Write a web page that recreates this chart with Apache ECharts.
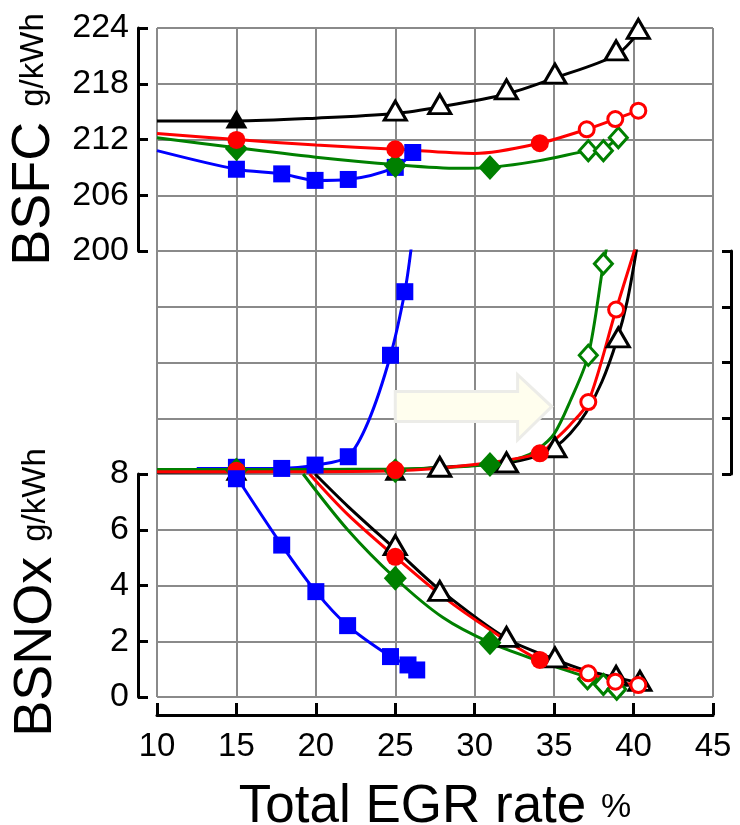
<!DOCTYPE html>
<html>
<head>
<meta charset="utf-8">
<script src="https://cdn.jsdelivr.net/npm/echarts@6/dist/echarts.min.js"></script>
<style>
  html, body { margin: 0; padding: 0; background: #fff; }
  #main { width: 740px; height: 825px; }
</style>
</head>
<body>
<div id="main"></div>
<script>
// x axis: total EGR rate %
var xMin = 10, xMax = 45, xStep = 5;

// BSFC g/kWh (top panel)
var bsfcBlackLine = [[10,214.0],[15,214.0],[20,214.3],[25,214.8],[27.8,215.5],[32,216.9],[35,218.6],[38.9,221.1],[40.3,223.5]];
var bsfcBlackFilled = [[15,214.2]];
var bsfcBlackOpen = [[25,215.1],[27.8,215.8],[32,217.4],[35.05,219.1],[38.9,221.6],[40.3,223.9]];
var bsfcRedLine = [[10,212.65],[15,212.0],[20,211.4],[25,210.95],[30,210.5],[34.1,211.6],[37.05,213.1],[38.85,214.2],[40.3,215.1]];
var bsfcRedFilled = [[15,211.95],[25,210.95],[34.1,211.6]];
var bsfcRedOpen = [[37.05,213.1],[38.85,214.2],[40.3,215.1]];
var bsfcGreenLine = [[10,212.2],[15,211.1],[20,210.1],[25,209.3],[29,208.9],[31,209.0],[34,209.7],[37.15,210.8],[38.1,211.0],[39.04,212.2]];
var bsfcGreenFilled = [[15,211.0],[25,209.2],[30.96,209.0]];
var bsfcGreenOpen = [[37.15,210.8],[38.1,210.8],[39.04,212.2]];
var bsfcBlueLine = [[10,210.8],[15,208.8],[17.85,208.3],[20,207.6],[22,207.7],[25,209.0],[26.1,210.6]];
var bsfcBluePts = [[15,208.8],[17.85,208.3],[19.95,207.6],[22.04,207.7],[25,209.0],[26.1,210.6]];

// middle panel (no scale printed, read on a 0-4 grid)
var midBlackLine = [[10,0.03],[20,0.05],[25,0.07],[27.8,0.12],[32,0.2],[34,0.33],[35.05,0.48],[36,0.72],[37,1.1],[38,1.65],[38.95,2.4],[39.6,3.1],[40.2,4.05]];
var midBlackFilled = [[15,0.05],[25,0.05]];
var midBlackOpen = [[27.8,0.13],[32,0.21],[35.05,0.48],[39.04,2.45]];
var midRedLine = [[10,0.04],[15,0.04],[25,0.06],[30,0.17],[34.1,0.37],[35,0.6],[36,0.88],[37.15,1.29],[38.9,2.95],[40.1,4.05]];
var midRedFilled = [[15,0.06],[25,0.07],[34.1,0.37]];
var midRedOpen = [[37.15,1.29],[38.9,2.95]];
var midGreenLine = [[10,0.08],[15,0.08],[25,0.09],[30.96,0.17],[33,0.3],[34,0.45],[35,0.72],[36,1.3],[37.15,2.13],[38.1,3.77],[38.3,4.05]];
var midGreenFilled = [[15,0.07],[25,0.06],[30.96,0.17]];
var midGreenOpen = [[37.15,2.13],[38.1,3.77]];
var midBlueLine = [[12.5,0.1],[15,0.1],[17.85,0.1],[20,0.16],[22,0.31],[23.3,0.94],[24.7,2.13],[25.6,3.27],[26,4.05]];
var midBluePts = [[15,0.12],[17.85,0.1],[19.95,0.16],[22.04,0.31],[24.7,2.13],[25.6,3.27]];

// BSNOx g/kWh (bottom panel)
var noxBlackLine = [[19.95,8.0],[22,6.85],[25,5.3],[27.8,3.85],[32,2.1],[35.05,1.35],[37,0.95],[38.9,0.7],[40.4,0.5]];
var noxBlackOpen = [[25,5.45],[27.8,3.81],[32,2.16],[35.05,1.42],[38.9,0.76],[40.4,0.58]];
var noxRedLine = [[19.6,8.0],[22,6.55],[25,5.03],[28,3.6],[31,2.4],[34.1,1.33],[37.15,0.85],[38.85,0.55],[40.3,0.43]];
var noxRedFilled = [[25,5.03],[34.1,1.33]];
var noxRedOpen = [[37.15,0.85],[38.85,0.55],[40.3,0.43]];
var noxGreenLine = [[19.2,8.0],[22,6.0],[25,4.26],[28,2.85],[30.96,1.95],[34,1.3],[37.1,0.7],[38.1,0.5],[38.94,0.3]];
var noxGreenFilled = [[25,4.26],[30.96,1.95]];
var noxGreenOpen = [[37.1,0.65],[38.1,0.45],[38.94,0.28]];
var noxBlueLine = [[15,7.9],[17.85,5.45],[20,3.78],[22,2.56],[24.7,1.45],[25.8,1.15],[26.35,0.97]];
var noxBluePts = [[15,7.83],[17.85,5.45],[20,3.78],[22,2.56],[24.7,1.45],[25.8,1.15],[26.35,0.97]];

// faint arrow in the middle panel (data coords)
var arrowPts = [[25,1.48],[32.7,1.48],[32.7,1.78],[34.85,1.21],[32.7,0.61],[32.7,0.94],[25,0.94]];

var FONT = '"Liberation Sans", Arial, sans-serif';
var GRIDLINE = { show: true, lineStyle: { color: '#8a8a8a', width: 2 } };
var BLACK = '#000', RED = '#ff0000', GREEN = '#008000', BLUE = '#0000ff';

function curve(data, color, idx) {
    return {
        type: 'line', xAxisIndex: idx, yAxisIndex: idx, data: data,
        smooth: 0.3, showSymbol: false, silent: true,
        lineStyle: { color: color, width: 3 }, z: 2
    };
}

function marks(data, color, symbol, size, open, idx) {
    return {
        type: 'scatter', xAxisIndex: idx, yAxisIndex: idx, data: data,
        symbol: symbol, symbolSize: size, silent: true, z: 3,
        itemStyle: open ? { color: '#fff', borderColor: color, borderWidth: 3, opacity: 1 }
                        : { color: color, opacity: 1 }
    };
}

var TRI = [22, 19], DIA = [23, 25], DIA_O = [18, 20], SQ = 17, CIR = 18, CIR_O = 15;

function panel(idx, blueL, blueP, blackL, blackF, blackO, greenL, greenF, greenO, redL, redF, redO) {
    var s = [];
    s.push(curve(blueL, BLUE, idx));
    s.push(marks(blueP, BLUE, 'rect', SQ, false, idx));
    s.push(curve(blackL, BLACK, idx));
    if (blackF) s.push(marks(blackF, BLACK, 'triangle', TRI, false, idx));
    s.push(marks(blackO, BLACK, 'triangle', TRI, true, idx));
    s.push(curve(greenL, GREEN, idx));
    s.push(marks(greenF, GREEN, 'diamond', DIA, false, idx));
    s.push(marks(greenO, GREEN, 'diamond', DIA_O, true, idx));
    s.push(curve(redL, RED, idx));
    s.push(marks(redF, RED, 'circle', CIR, false, idx));
    s.push(marks(redO, RED, 'circle', CIR_O, true, idx));
    return s;
}

function xAxisFor(idx, showAxis) {
    return {
        type: 'value', gridIndex: idx, min: xMin, max: xMax, interval: xStep,
        splitLine: GRIDLINE,
        offset: showAxis ? 18 : 0,
        axisLine: { show: showAxis, onZero: false, lineStyle: { color: BLACK, width: 3 } },
        axisTick: { show: showAxis, inside: true, length: 12, lineStyle: { color: BLACK, width: 3 } },
        axisLabel: { show: showAxis, fontSize: 33, color: BLACK, fontFamily: FONT, margin: 15 },
        name: showAxis ? '{a|Total EGR rate }{b|%}' : '',
        nameLocation: 'middle', nameGap: 66,
        nameTextStyle: {
            fontFamily: FONT, color: BLACK,
            rich: {
                a: { fontSize: 53, fontFamily: FONT },
                b: { fontSize: 34, fontFamily: FONT }
            }
        }
    };
}

function drawChart() {
    var dom = document.getElementById("main");
    var myChart = echarts.init(dom, null, { renderer: 'canvas' });
    var option = null;

    var series = []
        .concat(panel(0, bsfcBlueLine, bsfcBluePts, bsfcBlackLine, bsfcBlackFilled, bsfcBlackOpen,
            bsfcGreenLine, bsfcGreenFilled, bsfcGreenOpen, bsfcRedLine, bsfcRedFilled, bsfcRedOpen))
        .concat(panel(1, midBlueLine, midBluePts, midBlackLine, midBlackFilled, midBlackOpen,
            midGreenLine, midGreenFilled, midGreenOpen, midRedLine, midRedFilled, midRedOpen))
        .concat(panel(2, noxBlueLine, noxBluePts, noxBlackLine, null, noxBlackOpen,
            noxGreenLine, noxGreenFilled, noxGreenOpen, noxRedLine, noxRedFilled, noxRedOpen));

    function yName(shift) {
        return {
            fontFamily: FONT, color: BLACK,
            rich: {
                a: { fontSize: 54, fontFamily: FONT },
                b: { fontSize: 33, fontFamily: FONT, padding: [0, shift, 0, 0] }
            }
        };
    }

    option = {
        animation: false,
        backgroundColor: '#fff',
        textStyle: { fontFamily: FONT },
        grid: [
            { left: 157, right: 27, top: 28, height: 223, outerBoundsMode: 'none', containLabel: false },
            { left: 157, right: 27, top: 251, height: 223, outerBoundsMode: 'none', containLabel: false },
            { left: 157, right: 27, top: 474, height: 223, outerBoundsMode: 'none', containLabel: false }
        ],
        xAxis: [xAxisFor(0, false), xAxisFor(1, false), xAxisFor(2, true)],
        yAxis: [
            {
                type: 'value', gridIndex: 0, min: 200, max: 224, interval: 6, position: 'left', offset: 19,
                splitLine: GRIDLINE,
                axisLine: { show: true, lineStyle: { color: BLACK, width: 3 } },
                axisTick: { show: true, inside: true, length: 10, lineStyle: { color: BLACK, width: 3 } },
                axisLabel: { fontSize: 34, color: BLACK, fontFamily: FONT, margin: 9 },
                name: '{a|BSFC }{b|g/kWh}', nameLocation: 'middle', nameRotate: 90, nameGap: 75,
                nameTextStyle: yName(0)
            },
            {
                type: 'value', gridIndex: 1, min: 0, max: 4, interval: 1, position: 'right', offset: 18,
                splitLine: GRIDLINE,
                axisLine: { show: true, lineStyle: { color: BLACK, width: 3 } },
                axisTick: { show: true, inside: true, length: 9, lineStyle: { color: BLACK, width: 3 } },
                axisLabel: { show: false }
            },
            {
                type: 'value', gridIndex: 2, min: 0, max: 8, interval: 2, position: 'left', offset: 19,
                splitLine: GRIDLINE,
                axisLine: { show: true, lineStyle: { color: BLACK, width: 3 } },
                axisTick: { show: true, inside: true, length: 10, lineStyle: { color: BLACK, width: 3 } },
                axisLabel: { fontSize: 34, color: BLACK, fontFamily: FONT, margin: 9 },
                name: '{a|BSNOx }{b|g/kWh}', nameLocation: 'middle', nameRotate: 90, nameGap: 75,
                nameTextStyle: yName(14)
            }
        ],
        series: series
    };

    if (option && typeof option === "object") {
        myChart.setOption(option, true);
    }

    // arrow placed through the middle panel's scales
    var pts = arrowPts.map(function (p) {
        return myChart.convertToPixel({ gridIndex: 1 }, p);
    });
    myChart.setOption({
        graphic: [{
            type: 'polygon', z: 1, silent: true,
            shape: { points: pts },
            style: { fill: '#fffeee', stroke: '#ececE8', lineWidth: 3 }
        }]
    });
}

drawChart();
</script>
</body>
</html>
